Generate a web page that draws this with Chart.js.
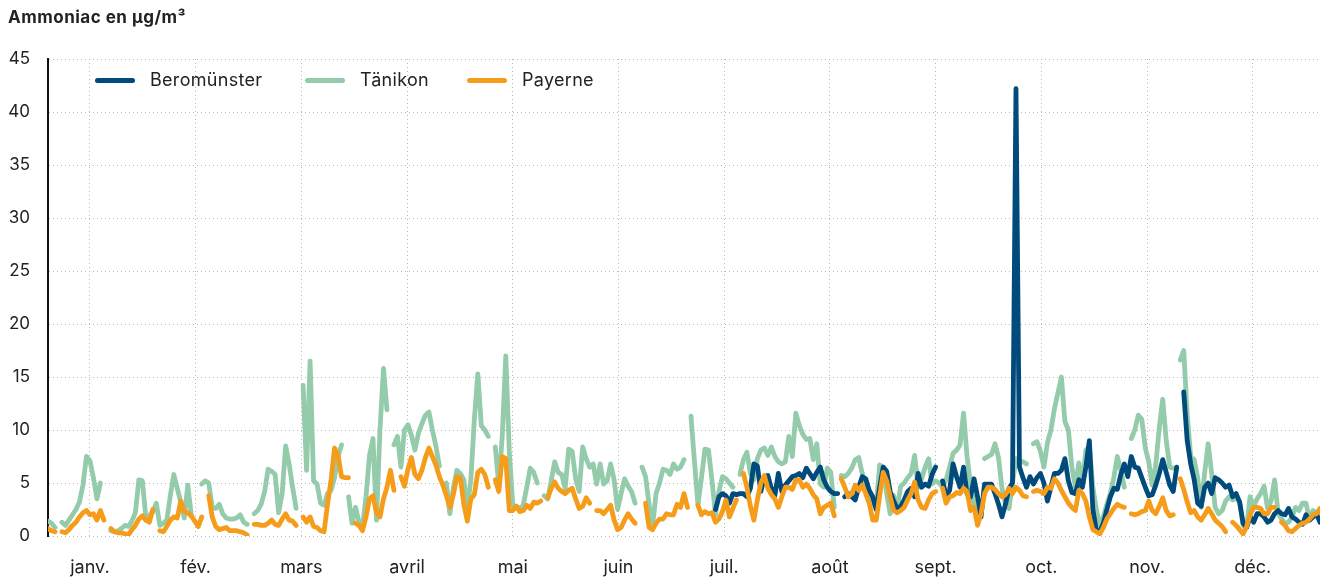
<!DOCTYPE html>
<html lang="fr">
<head>
<meta charset="utf-8">
<title>Ammoniac en µg/m³</title>
<script src="https://cdn.jsdelivr.net/npm/chart.js@4.4.0/dist/chart.umd.min.js"></script>
<style>
  html, body { margin: 0; padding: 0; background: #fff; }
  .wrap { position: relative; width: 1337px; height: 577px; font-family: Inter, "Noto Sans", sans-serif; color: #222; }
  .title { position: absolute; left: 8px; top: 7px; font-size: 17px; font-weight: 700; letter-spacing: 0.5px; }
  .legend-item { position: absolute; top: 69px; height: 22px; line-height: 22px; font-size: 18px; letter-spacing: 0.3px; white-space: nowrap; }
  .legend-item .swatch { display: inline-block; width: 40px; height: 5px; border-radius: 3px; vertical-align: middle; margin-right: 15px; position: relative; top: -1px; }
  canvas { position: absolute; left: 0; top: 0; }
</style>
</head>
<body>
<div class="wrap">
  <canvas id="ammoniaChart" width="1337" height="577"></canvas>
  <div class="title">Ammoniac en µg/m³</div>
  <div class="legend-item" style="left:95px"><span class="swatch" style="background:#004a7c"></span>Beromünster</div>
  <div class="legend-item" style="left:305px"><span class="swatch" style="background:#93cbab"></span>Tänikon</div>
  <div class="legend-item" style="left:467px"><span class="swatch" style="background:#f59d1b"></span>Payerne</div>
</div>
<script>
// x axis = day of the year (0 = 1st of January)
const monthLabels = ['janv.', 'fév.', 'mars', 'avril', 'mai', 'juin', 'juil.', 'août', 'sept.', 'oct.', 'nov.', 'déc.'];
const tickDays = [12, 42.25, 72.5, 102.75, 133, 163.25, 193.5, 223.75, 254, 284.25, 314.5, 344.75];

// daily means, µg/m³ (null = no measurement)
const tanikon = [
  1.4, 1.2, 0.8, null, 1.3, 1.0, 1.5, 2.0, 2.5, 3.2,
  4.8, 7.5, 7.1, 5.5, 3.5, 5.0, null, null, 0.5, 0.4,
  0.5, 0.7, 1.0, 0.9, 1.4, 2.2, 5.3, 5.2, 1.8, 1.9,
  2.3, 3.1, 1.0, 1.2, 1.5, 3.8, 5.8, 4.5, 3.2, 1.7,
  4.8, 2.0, null, null, 4.9, 5.2, 5.0, 2.7, 2.6, 3.0,
  2.1, 1.7, 1.6, 1.6, 1.7, 2.0, 1.3, 1.1, null, 2.1,
  2.4, 3.0, 4.2, 6.3, 6.1, 5.8, 2.2, 4.0, 8.5, 6.8,
  4.6, 2.6, null, 14.2, 6.2, 16.5, 5.2, 4.9, 3.1, 2.9,
  4.0, 4.3, 5.5, 7.5, 8.6, null, 3.7, 1.2, 2.7, 1.3,
  0.9, 3.7, 7.6, 9.2, 1.5, 10.0, 15.8, 11.9, null, 8.6,
  9.4, 6.5, 10.0, 10.5, 9.5, 8.1, 9.7, 10.6, 11.4, 11.7,
  10.0, 8.5, 6.6, null, 5.0, 2.1, 4.5, 6.2, 5.9, 5.3,
  2.5, 5.3, 11.0, 15.3, 10.4, 10.0, 9.4, null, 8.4, 4.8,
  9.5, 17.0, 8.0, 2.9, 2.8, 2.6, 2.9, 4.6, 6.4, 6.0,
  5.0, null, 3.8, 3.5, 5.2, 7.0, 6.0, 5.8, 4.5, 8.2,
  8.0, 5.4, 4.2, 8.4, 7.3, 6.5, 6.8, 4.9, 6.8, 4.9,
  5.2, 6.8, 5.3, 2.5, 4.0, 5.4, 4.7, 4.2, 3.1, null,
  6.5, 5.6, 3.0, 0.9, 4.0, 5.0, 6.3, 6.2, 5.8, 6.8,
  6.3, 6.5, 7.2, null, 11.3, 7.0, 2.9, 5.5, 8.2, 8.1,
  5.3, 2.0, 4.2, 5.6, 5.4, 5.0, 4.6, null, 5.8, 7.2,
  7.9, 5.9, 5.3, 7.3, 8.1, 8.3, 7.6, 8.4, 7.5, 7.0,
  6.8, 7.0, 9.4, 7.5, 11.6, 10.4, 9.6, 9.1, 9.2, 7.2,
  8.7, 4.9, 4.6, 6.4, 6.0, 2.7, null, 5.7, 5.6, 5.9,
  6.4, 7.2, 7.4, 5.9, 4.6, 3.6, 3.0, 2.8, 6.7, 6.5,
  4.0, 2.1, 3.8, 2.5, 4.7, 5.0, 5.5, 5.9, 7.6, 4.6,
  5.4, 6.5, 7.3, 4.9, 5.2, 5.0, 4.6, 5.3, 6.5, 7.8,
  8.1, 8.6, 11.6, 7.5, 4.9, 3.0, 2.0, null, 7.3, 7.5,
  7.7, 8.7, 7.4, 4.5, 3.0, 2.6, 5.0, 7.3, 7.1, 7.0,
  6.8, null, 8.7, 8.9, 8.0, 6.5, 8.8, 10.0, 12.0, 13.5,
  15.0, 10.8, 10.0, 6.5, 4.6, 6.9, 4.8, 8.1, 8.4, 4.6,
  2.5, 1.0, 1.8, 3.0, 4.0, 5.5, 7.5, 6.2, 4.6, null,
  9.2, 10.0, 11.4, 11.0, 8.3, 7.0, 4.8, 6.7, 10.2, 12.9,
  9.0, 6.5, 6.4, null, 16.6, 17.5, 11.5, 7.5, 7.2, 5.5,
  2.7, 6.0, 8.7, 5.9, 2.7, 2.1, 2.4, 3.3, 3.7, 3.4,
  3.6, 3.2, 1.0, 0.8, 3.7, 2.8, 3.5, 4.0, 4.7, 2.6,
  3.3, 5.3, 2.2, 1.6, 1.2, 1.3, 1.8, 2.7, 2.4, 3.1,
  3.1, 1.5, 2.4, 2.1, 2.4
];

const payerne = [
  0.7, 0.5, 0.4, null, 0.4, 0.3, 0.6, 1.0, 1.3, 1.8,
  2.2, 2.4, 2.0, 2.1, 1.5, 2.4, 1.5, null, 0.7, 0.4,
  0.3, 0.3, 0.2, 0.1, 0.6, 1.0, 1.6, 1.9, 1.5, 1.3,
  2.5, null, 0.5, 0.4, 0.9, 1.5, 1.8, 1.7, 3.3, 2.3,
  2.2, 1.9, 1.4, 0.9, 1.8, null, 3.8, 1.8, 0.9, 0.6,
  0.7, 0.8, 0.5, 0.5, 0.5, 0.4, 0.3, 0.1, null, 1.1,
  1.1, 1.0, 1.0, 1.2, 1.5, 1.1, 1.0, 1.6, 2.1, 1.5,
  1.4, 1.0, null, 1.8, 1.3, 1.8, 0.9, 0.8, 0.5, 0.4,
  3.0, 5.3, 8.3, 7.6, 5.6, 5.5, 5.5, null, 1.2, 1.0,
  0.5, 1.8, 3.5, 3.8, 2.2, 1.8, 3.5, 4.6, 6.2, 4.3,
  null, 5.6, 4.7, 6.3, 7.4, 5.8, 5.4, 6.2, 7.4, 8.3,
  7.5, 6.7, 5.6, 4.8, 3.8, 2.7, 3.9, 5.6, 5.5, 3.0,
  1.4, 3.5, 3.9, 6.0, 6.3, 5.8, 4.6, null, 5.3, 4.2,
  7.5, 7.3, 2.4, 2.4, 2.8, 2.3, 2.4, 2.9, 2.6, 3.2,
  3.1, 3.3, null, 3.6, 4.5, 5.1, 4.5, 4.2, 4.0, 4.3,
  4.5, 3.5, 2.6, 2.8, 3.6, 3.1, null, 2.4, 2.4, 2.1,
  2.5, 2.9, 1.5, 0.6, 0.8, 1.5, 2.1, 1.6, 1.2, null,
  null, 3.1, 0.8, 0.6, 1.2, 1.6, 1.6, 2.1, 2.0, 2.0,
  3.0, 2.7, 4.0, 2.7, null, null, 2.9, 2.0, 2.3, 2.1,
  2.2, 1.3, 1.6, 2.3, 3.4, 1.8, 2.6, 3.4, null, 5.9,
  4.6, 2.8, 1.5, 3.4, 5.0, 5.7, 4.5, 3.9, 3.5, 2.7,
  3.7, 4.6, 4.6, 4.4, 5.3, 5.3, 4.6, 4.9, 4.5, 3.9,
  3.5, 2.1, 2.7, 2.9, 3.1, 1.9, null, 5.4, 4.6, 3.7,
  4.0, 4.8, 4.3, 4.8, 4.0, 3.1, 1.5, 1.5, 3.8, 6.0,
  5.2, 3.7, 2.4, 2.2, 2.4, 2.7, 3.4, 4.0, 5.1, 3.4,
  2.7, 2.6, 3.4, 4.0, 4.2, null, 4.5, 3.1, 3.7, 3.8,
  4.1, 4.0, 4.5, 4.2, 2.4, 2.7, 1.0, 2.1, 4.0, 4.6,
  4.6, 4.4, 4.0, 3.7, 3.9, 4.5, 4.0, 4.6, 4.3, 3.8,
  3.7, null, 4.2, 4.3, 4.2, 4.0, 4.6, 4.5, 5.4, 5.0,
  4.3, 3.7, 3.1, 2.7, 2.4, 4.3, 4.0, 3.3, 1.8, 0.6,
  0.4, 0.2, 0.8, 1.6, 2.1, 2.6, 3.0, 2.8, 2.7, null,
  2.1, 2.0, 2.1, 2.3, 2.4, 3.3, 2.4, 2.1, 2.8, 3.6,
  2.4, 1.9, 2.0, null, 5.4, 4.4, 3.2, 2.2, 2.4, 1.8,
  1.5, 2.0, 2.6, 2.1, 1.5, 1.2, 0.9, 0.4, null, 1.3,
  1.0, 0.6, 0.2, 0.9, 2.0, 2.7, 2.7, 2.6, 2.1, 2.1,
  2.7, 2.7, null, 1.3, 1.0, 0.5, 0.4, 0.7, 1.0, 1.2,
  1.3, 1.6, 2.0, 2.1, 2.6
];

// Beromünster only measures from day 191 on
const beromunsterStart = 191;
const beromunster = [
  2.5, 3.7, 4.0, 3.8, 3.1, 4.0, 3.9, 4.0, 4.0,
  3.7, 4.5, 6.8, 6.6, 4.2, 5.6, 5.7, 4.5, 3.8, 5.9,
  4.2, 4.8, 5.2, 5.6, 5.7, 5.9, 5.5, 6.4, 5.9, 5.4,
  6.0, 6.5, 5.3, 4.6, 4.2, 4.0, 4.0, null, 3.7, 4.0,
  3.7, 3.4, 4.6, 5.6, 5.4, 4.3, 3.7, 2.5, 4.6, 6.5,
  6.1, 4.2, 3.3, 2.6, 2.8, 3.4, 4.2, 4.5, 3.7, 5.9,
  4.6, 4.9, 4.7, 5.8, 6.5, null, 5.2, 3.8, 4.3, 6.8,
  5.6, 4.6, 6.5, 4.0, 3.7, 5.4, 3.7, 1.8, 4.9, 4.9,
  4.9, 4.0, 3.0, 1.8, 3.0, 4.5, 5.0, 42.2, 6.5, 5.5,
  4.6, 5.6, 4.9, 5.5, 5.9, 5.0, 3.3, 4.6, 5.9, 5.9,
  6.2, 7.3, 5.2, 4.1, 4.0, 5.3, 4.6, 6.5, 9.0, 2.5,
  0.5, 0.4, 1.2, 2.5, 3.7, 4.5, 4.4, 5.8, 6.8, 5.6,
  7.5, 6.5, 6.4, 5.5, 4.6, 3.8, 3.9, 4.8, 5.9, 7.2,
  6.0, 4.8, 4.2, 6.5, null, 13.6, 9.0, 6.8, 5.3, 3.1,
  2.8, 4.6, 5.0, 4.0, 5.5, 5.3, 5.0, 4.6, 4.8, 3.7,
  4.0, 3.2, 1.2, 0.8, 1.8, 1.3, 2.1, 2.1, 1.8, 1.3,
  1.5, 2.1, 2.4, 2.1, 2.0, 2.6, 1.8, 1.6, 1.3, 1.1,
  2.0, 1.5, 1.8, 2.1, 1.3
];

const toPoints = (values, start) => values.map((v, i) => ({ x: start + i, y: v }));

Chart.defaults.font.family = 'Inter, "Noto Sans", sans-serif';
Chart.defaults.font.size = 17;
Chart.defaults.color = '#222';

const lineStyle = {
  borderWidth: 4.8,
  pointRadius: 0,
  tension: 0,
  fill: false,
  spanGaps: false,
  borderJoinStyle: 'round',
  borderCapStyle: 'round',
};

const gridColor = '#b8b8b8';

new Chart(document.getElementById('ammoniaChart'), {
  type: 'line',
  data: {
    datasets: [
      { label: 'Beromünster', data: toPoints(beromunster, beromunsterStart), borderColor: '#004a7c', order: 1, ...lineStyle },
      { label: 'Tänikon', data: toPoints(tanikon, 0), borderColor: '#93cbab', order: 2, ...lineStyle },
      { label: 'Payerne', data: toPoints(payerne, 0), borderColor: '#f59d1b', order: 0, ...lineStyle },
    ],
  },
  options: {
    responsive: false,
    animation: false,
    layout: { padding: { left: 0, right: 17, top: 59, bottom: 0 } },
    plugins: {
      legend: { display: false },
      tooltip: { enabled: false },
    },
    scales: {
      x: {
        type: 'linear',
        min: 0,
        max: 364,
        afterBuildTicks: (scale) => {
          scale.ticks = tickDays.map((v) => ({ value: v }));
        },
        afterFit: (scale) => {
          scale.height = 41;
        },
        ticks: {
          autoSkip: false,
          maxRotation: 0,
          padding: 21,
          font: { size: 18 },
          callback: (value, index) => monthLabels[index],
        },
        grid: { color: gridColor, lineWidth: 1, drawTicks: false },
        border: { display: false, dash: [1, 3] },
      },
      y: {
        min: 0,
        max: 45,
        ticks: { stepSize: 5, padding: 18 },
        afterFit: (scale) => {
          scale.width = 48;
        },
        grid: { color: gridColor, lineWidth: 1, drawTicks: false },
        border: { display: true, color: '#111', width: 2, dash: [1, 3] },
      },
    },
  },
});
</script>
</body>
</html>
